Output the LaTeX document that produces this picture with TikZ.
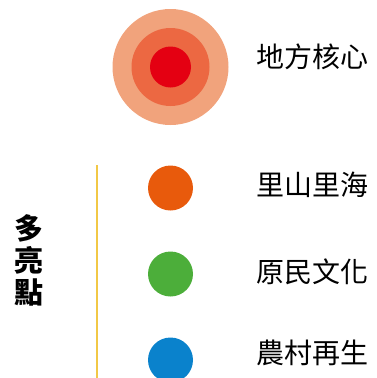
\documentclass[tikz,border=0pt]{standalone}
\usepackage{fontspec}
\setmainfont{Noto Sans CJK TC}
\usetikzlibrary{positioning}
\definecolor{ringout}{RGB}{241,163,124}
\definecolor{ringmid}{RGB}{236,104,66}
\definecolor{ringin}{RGB}{228,0,18}
\definecolor{dotorange}{RGB}{232,90,12}
\definecolor{dotgreen}{RGB}{76,174,58}
\definecolor{dotblue}{RGB}{10,130,204}
\definecolor{lineyellow}{RGB}{242,200,70}
\tikzset{
	dot/.style={circle,inner sep=0pt,minimum size=45pt},
	label/.style={font=\fontsize{28}{28}\selectfont,anchor=west,inner sep=0pt}
}
\begin{document}
\begin{tikzpicture}[x=1pt,y=-1pt]
		\useasboundingbox (0,0) rectangle (377,378);
		% core
		\node[circle,fill=ringout,minimum size=116pt,inner sep=0pt] (outer) at (170.5,67) {};
		\node[circle,fill=ringmid,minimum size=78pt,inner sep=0pt] (middle) at (outer) {};
		\node[circle,fill=ringin,minimum size=41pt,inner sep=0pt] (core) at (outer) {};
		\node[label] (tcore) at (256,57) {地方核心};
		% highlights
		\node[dot,fill=dotorange] (d1) at (170.5,188) {};
		\node[dot,fill=dotgreen] (d2) at (170.5,274) {};
		\node[dot,fill=dotblue] (d3) at (170.5,360) {};
		\node[label] (t1) at (256,185) {里山里海};
		\node[label] (t2) at (256,272) {原民文化};
		\node[label] (t3) at (256,353) {農村再生};
		\coordinate (ltop) at (97,165);
		\coordinate (lbot) at (97,378);
		\draw[lineyellow,line width=1.2pt] (ltop) -- (lbot);
		\node[font=\fontsize{29}{32}\selectfont\bfseries,align=center,inner sep=0pt] (multi) at (29,260) {多\\亮\\點};
	\end{tikzpicture}
\end{document}
